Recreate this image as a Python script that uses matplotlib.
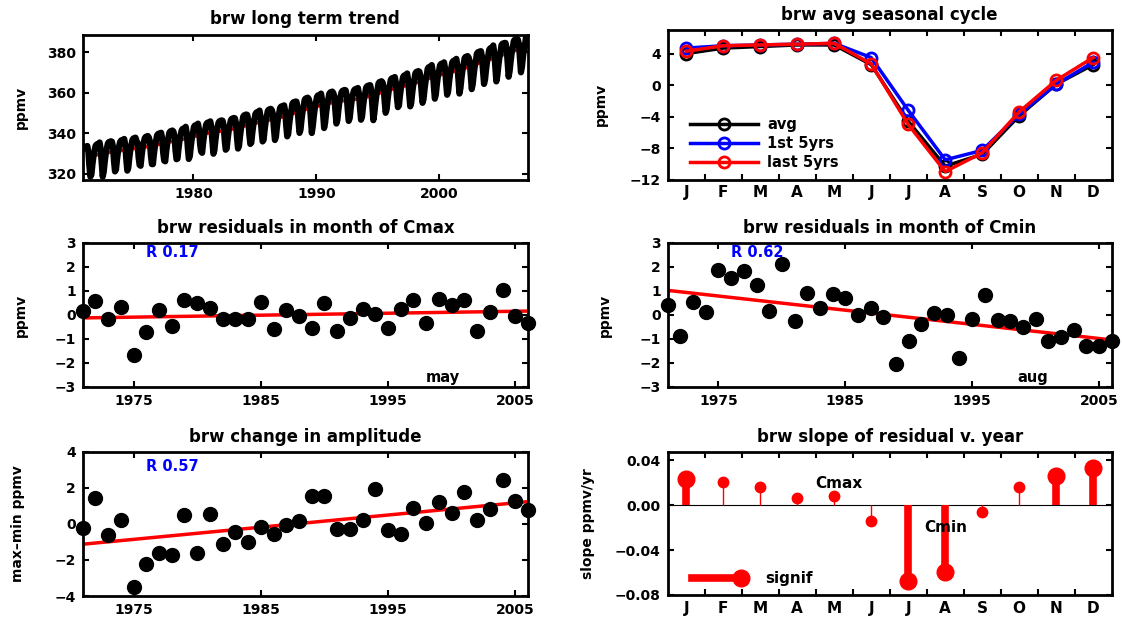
import numpy as np
import matplotlib
matplotlib.use('Agg')
from matplotlib import rcParams, pyplot as plt
from matplotlib.lines import Line2D
from matplotlib.legend_handler import HandlerLine2D
from matplotlib.ticker import FuncFormatter

# ---- values ----
trend_years = np.arange(1971, 2008)
trend_ppmv = [328.5, 329.8, 331.0, 331.8, 332.8, 333.6, 335.0, 336.3, 337.5, 339.2,
              340.5, 341.3, 342.5, 344.2, 345.6, 347.0, 348.5, 350.6, 352.5, 354.0,
              355.5, 356.3, 357.0, 358.6, 360.6, 362.4, 363.8, 365.6, 367.9, 369.5,
              371.0, 373.0, 375.3, 377.2, 379.5, 381.5, 383.5]

month_labels = ['J', 'F', 'M', 'A', 'M', 'J', 'J', 'A', 'S', 'O', 'N', 'D']
month_num = np.arange(1, 13)
cycle_avg = [4.0, 4.7, 4.9, 5.1, 5.1, 2.6, -4.6, -10.3, -8.8, -3.9, 0.1, 2.6]
cycle_first5 = [4.7, 5.0, 5.1, 5.2, 5.3, 3.5, -3.2, -9.5, -8.3, -3.7, 0.1, 2.9]
cycle_last5 = [4.3, 5.0, 5.1, 5.2, 5.3, 2.7, -5.0, -11.0, -8.6, -3.4, 0.6, 3.5]

years = np.arange(1971, 2007)
resid_may = [0.17, 0.60, -0.18, 0.34, -1.67, -0.71, 0.20, -0.47, 0.64, 0.50,
             0.31, -0.18, -0.16, -0.18, 0.55, -0.57, 0.20, -0.04, -0.54, 0.52,
             -0.68, -0.14, 0.27, 0.06, -0.54, 0.27, 0.64, -0.33, 0.67, 0.43,
             0.64, -0.68, 0.14, 1.06, -0.04, -0.35]
resid_aug = [0.43, -0.88, 0.53, 0.11, 1.89, 1.54, 1.85, 1.24, 0.18, 2.13,
             -0.26, 0.92, 0.28, 0.88, 0.71, 0.00, 0.31, -0.09, -2.03, -1.08,
             -0.36, 0.10, 0.00, -1.81, -0.18, 0.82, -0.21, -0.26, -0.51, -0.18,
             -1.08, -0.90, -0.64, -1.28, -1.28, -1.10]
amp_change = [-0.22, 1.44, -0.63, 0.20, -3.50, -2.20, -1.61, -1.70, 0.48, -1.61,
              0.56, -1.11, -0.44, -1.02, -0.17, -0.56, -0.04, 0.15, 1.54, 1.57,
              -0.31, -0.26, 0.24, 1.94, -0.35, -0.56, 0.89, 0.02, 1.22, 0.61,
              1.76, 0.24, 0.80, 2.43, 1.26, 0.76]

slope = [0.0235, 0.0205, 0.016, 0.0063, 0.0084, -0.0141, -0.0677, -0.0592,
         -0.006, 0.016, 0.0256, 0.0334]
slope_signif = [True, False, False, False, False, False, True, True,
                False, False, True, True]

# monthly record = yearly level + mean cycle, with the may/aug residuals put back
co2 = np.repeat(trend_ppmv, 12) + np.tile(cycle_avg, len(trend_years))
co2[4::12][:len(years)] += resid_may
co2[7::12][:len(years)] += resid_aug
t_month = trend_years[0] + (np.arange(len(co2)) + 0.5) / 12


def setFont():
    rcParams.update({
        "font.family": ['DejaVu Sans'],
        "font.weight": 'bold',
        "axes.titleweight": 'bold',
        "axes.labelweight": 'bold',
        "font.size": 10,
        "axes.linewidth": 2,
        "xtick.direction": 'in',
        "ytick.direction": 'in',
        "xtick.top": True,
        "ytick.right": True,
        "xtick.major.size": 4,
        "ytick.major.size": 4,
        "xtick.major.width": 1.5,
        "ytick.major.width": 1.5,
        "xtick.major.pad": 5,
        "ytick.major.pad": 5,
    })


class StemKey(HandlerLine2D):
    # legend key like matlab's stem: bar with the knob at its end
    def create_artists(self, legend, orig_handle, xdescent, ydescent,
                       width, height, fontsize, trans):
        y = (height - ydescent) / 2
        stick = Line2D([-xdescent, width - xdescent], [y, y])
        self.update_prop(stick, orig_handle, legend)
        stick.set_marker('None')
        knob = Line2D([width - xdescent], [y])
        self.update_prop(knob, orig_handle, legend)
        knob.set_linestyle('None')
        stick.set_transform(trans)
        knob.set_transform(trans)
        return [stick, knob]


W, H = 1122, 619


def box(x0, y0, x1, y1):
    # axes placed by pixel corners of the reference
    return fig.add_axes([x0 / W, 1 - y1 / H, (x1 - x0) / W, (y1 - y0) / H])


def month_axis(ax):
    ax.set_xlim(0.5, 12.5)
    ax.set_xticks(np.arange(1.5, 12, 1))
    ax.set_xticklabels([])
    ax.set_xticks(month_num, month_labels, minor=True)
    ax.tick_params(axis='x', which='minor', length=0, labelsize=11, pad=4,
                   top=False)


def minus(v, pos):
    return ('%.2f' % v).replace('-', '\u2212')


setFont()
fig = plt.figure(figsize=(W / 100, H / 100), dpi=100)

# long term trend
ax1 = box(82.7, 35, 528, 180)
ax1.plot(trend_years + 0.5, trend_ppmv, color='red', lw=2.5)
ax1.plot(t_month, co2, color='black', lw=4.5)
ax1.set_xlim(1971, 2007.2)
ax1.set_ylim(317, 388.5)
ax1.set_xticks([1980, 1990, 2000])
ax1.set_yticks([320, 340, 360, 380])
ax1.set_title('brw long term trend', fontsize=12, pad=8)
ax1.set_ylabel('ppmv', fontsize=10)
ax1.yaxis.set_label_coords(-0.123, 0.5)

# seasonal cycle
ax2 = box(667.7, 30, 1111.7, 179.5)
for vals, col, lab in [(cycle_avg, 'black', 'avg'),
                       (cycle_first5, 'blue', '1st 5yrs'),
                       (cycle_last5, 'red', 'last 5yrs')]:
    ax2.plot(month_num, vals, color=col, lw=2.5, marker='o', ms=8,
             mfc='none', mew=2, label=lab)
month_axis(ax2)
ax2.set_ylim(-12, 7)
ax2.set_yticks([-12, -8, -4, 0, 4])
ax2.set_title('brw avg seasonal cycle', fontsize=12, pad=7)
ax2.set_ylabel('ppmv', fontsize=10)
ax2.yaxis.set_label_coords(-0.134, 0.5)
ax2.legend(loc='center left', bbox_to_anchor=(0.05, 0.24), frameon=False,
           borderpad=0, borderaxespad=0, handlelength=4.7, handletextpad=0.6,
           labelspacing=0.3, fontsize=10.5, numpoints=1)


def resid_panel(ax, vals, title, ylab, rtext, ry, corner=None):
    fit = np.polyfit(years, vals, 1)
    ends = np.array([years[0], years[-1]])
    ax.plot(ends, np.polyval(fit, ends), color='red', lw=2.5)
    ax.plot(years, vals, 'o', color='black', ms=10, clip_on=False, zorder=3)
    ax.set_xlim(years[0], years[-1])
    ax.set_xticks([1975, 1985, 1995, 2005])
    ax.set_title(title, fontsize=12, pad=7)
    ax.set_ylabel(ylab, fontsize=10)
    ax.text(1976.0, ry, rtext, color='blue', fontsize=10.5, va='center')
    if corner:
        ax.text(corner[0], -2.6, corner[1], color='black', fontsize=10.5,
                va='center')


ax3 = box(82.7, 243, 528, 387)
ax3.set_ylim(-3, 3)
ax3.set_yticks(np.arange(-3, 4))
resid_panel(ax3, resid_may, 'brw residuals in month of Cmax', 'ppmv',
            'R 0.17', 2.6, (1998.0, 'may'))
ax3.yaxis.set_label_coords(-0.123, 0.5)

ax4 = box(667.7, 243, 1111.7, 387)
ax4.set_ylim(-3, 3)
ax4.set_yticks(np.arange(-3, 4))
resid_panel(ax4, resid_aug, 'brw residuals in month of Cmin', 'ppmv',
            'R 0.62', 2.6, (1998.6, 'aug'))
ax4.yaxis.set_label_coords(-0.126, 0.5)

ax5 = box(82.7, 451.7, 528, 596)
ax5.set_ylim(-4, 4)
ax5.set_yticks([-4, -2, 0, 2, 4])
resid_panel(ax5, amp_change, 'brw change in amplitude', 'max\u2013min ppmv',
            'R 0.57', 3.2)
ax5.yaxis.set_label_coords(-0.13, 0.5)

# slope of residual v. year
ax6 = box(667.7, 451.7, 1111.7, 595)
ax6.axhline(0, color='black', lw=0.8)
sig = np.array(slope_signif)
s = np.array(slope)
ax6.vlines(month_num[~sig], 0, s[~sig], color='red', lw=1)
ax6.plot(month_num[~sig], s[~sig], 'o', color='red', ms=7.5)
ax6.vlines(month_num[sig], 0, s[sig], color='red', lw=5.5)
ax6.plot(month_num[sig], s[sig], 'o', color='red', ms=12)
month_axis(ax6)
ax6.set_ylim(-0.08, 0.0475)
ax6.set_yticks([-0.08, -0.04, 0.0, 0.04])
ax6.yaxis.set_major_formatter(FuncFormatter(minus))
ax6.set_title('brw slope of residual v. year', fontsize=12, pad=7)
ax6.set_ylabel('slope ppmv/yr', fontsize=10)
ax6.yaxis.set_label_coords(-0.163, 0.5)
ax6.text(4.48, 0.0192, 'Cmax', fontsize=11, va='center')
ax6.text(7.43, -0.0202, 'Cmin', fontsize=11, va='center')
key = Line2D([], [], color='red', lw=5.5, marker='o', ms=12)
ax6.legend([key], ['signif'], handler_map={key: StemKey()},
           loc='center left', bbox_to_anchor=(0.055, 0.115), frameon=False,
           borderpad=0, borderaxespad=0, handlelength=3.2, handletextpad=1.6,
           fontsize=11)

fig.savefig('out.png', dpi=100)
